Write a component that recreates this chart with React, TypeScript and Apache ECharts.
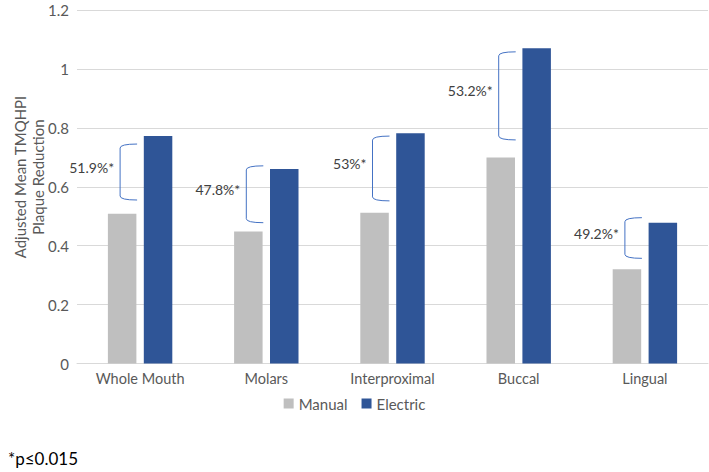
import React, { useEffect, useRef } from "react";
import * as echarts from "echarts";

const categories = ["Whole Mouth", "Molars", "Interproximal", "Buccal", "Lingual"];
const manualValues = [0.508, 0.448, 0.512, 0.699, 0.32];
const electricValues = [0.772, 0.66, 0.782, 1.07, 0.478];
const bracketLow = [0.555, 0.478, 0.552, 0.759, 0.357];
const bracketHigh = [0.745, 0.671, 0.772, 1.058, 0.495];
const bracketLabels = ["51.9%*", "47.8%*", "53%*", "53.2%*", "49.2%*"];
const yTicks = { min: 0, max: 1.2, interval: 0.2 };

const FONT = "Lato, 'Open Sans', sans-serif";
const TEXT = "#595959";

export default function App() {
  const ref = useRef<HTMLDivElement>(null);
  useEffect(() => {
    if (!ref.current) return;
    const chart = echarts.init(ref.current, undefined, { renderer: "svg" });
    const bracketData = categories.map((_, i) => [i, bracketLow[i], bracketHigh[i], bracketLabels[i]]);
    chart.setOption({
      animation: false,
      textStyle: { fontFamily: FONT },
      grid: { left: 77, right: 1, top: 10, bottom: 108.5, containLabel: false },
      legend: {
        data: ["Manual", "Electric"],
        bottom: 56,
        left: "center",
        itemWidth: 10,
        itemHeight: 10,
        itemGap: 14,
        icon: "rect",
        textStyle: { color: TEXT, fontSize: 15, fontFamily: FONT },
      },
      xAxis: {
        type: "category",
        data: categories,
        axisLine: { lineStyle: { color: "#D9D9D9" } },
        axisTick: { show: false },
        axisLabel: { color: TEXT, fontSize: 14.5, margin: 7, fontFamily: FONT },
      },
      yAxis: {
        type: "value",
        min: yTicks.min,
        max: yTicks.max,
        interval: yTicks.interval,
        axisLine: { show: false },
        axisTick: { show: false },
        splitLine: { lineStyle: { color: "#D9D9D9", width: 1 } },
        axisLabel: {
          color: TEXT,
          fontSize: 15,
          margin: 8,
          fontFamily: FONT,
          formatter: (v: number) => String(Math.round(v * 10) / 10),
        },
      },
      graphic: [
        {
          type: "text",
          x: 29,
          y: 177,
          rotation: Math.PI / 2,
          style: {
            text: "Adjusted Mean TMQHPI\nPlaque Reduction",
            align: "center",
            verticalAlign: "middle",
            fill: TEXT,
            fontSize: 15,
            lineHeight: 18,
            fontFamily: FONT,
          },
        },
        {
          type: "text",
          left: 8,
          top: 450,
          style: {
            text: "*p≤0.015",
            fill: "#000000",
            fontSize: 17,
            fontFamily: FONT,
          },
        },
      ],
      series: [
        {
          name: "Manual",
          type: "bar",
          data: manualValues,
          barWidth: 28.5,
          barGap: "26%",
          itemStyle: { color: "#BFBFBF" },
        },
        {
          name: "Electric",
          type: "bar",
          data: electricValues,
          barWidth: 28.5,
          barGap: "26%",
          itemStyle: { color: "#2F5597" },
        },
        {
          name: "brackets",
          type: "custom",
          data: bracketData,
          encode: { x: 0, y: [1, 2] },
          z: 5,
          renderItem: (params: any, api: any) => {
            const idx = api.value(0);
            const top = api.coord([idx, api.value(2)]);
            const bot = api.coord([idx, api.value(1)]);
            const xc = top[0];
            const xv = xc - 20;
            const xe = xc - 3;
            const yt = top[1];
            const yb = bot[1];
            const d = `M${xe} ${yt} Q${xv} ${yt} ${xv} ${yt + 4} L${xv} ${yb - 4} Q${xv} ${yb} ${xe} ${yb}`;
            const label = bracketLabels[params.dataIndex];
            return {
              type: "group",
              children: [
                {
                  type: "path",
                  shape: { pathData: d },
                  style: { stroke: "#4472C4", lineWidth: 1, fill: "none" },
                },
                {
                  type: "text",
                  style: {
                    text: label,
                    x: xv - 6,
                    y: (yt + yb) / 2 - 5,
                    align: "right",
                    verticalAlign: "middle",
                    fill: "#404040",
                    fontSize: 14,
                    fontFamily: FONT,
                  },
                },
              ],
            };
          },
        },
      ],
    });
    return () => chart.dispose();
  }, []);
  return <div ref={ref} style={{ width: 709, height: 472, position: "absolute", left: 0, top: 0 }} />;
}
